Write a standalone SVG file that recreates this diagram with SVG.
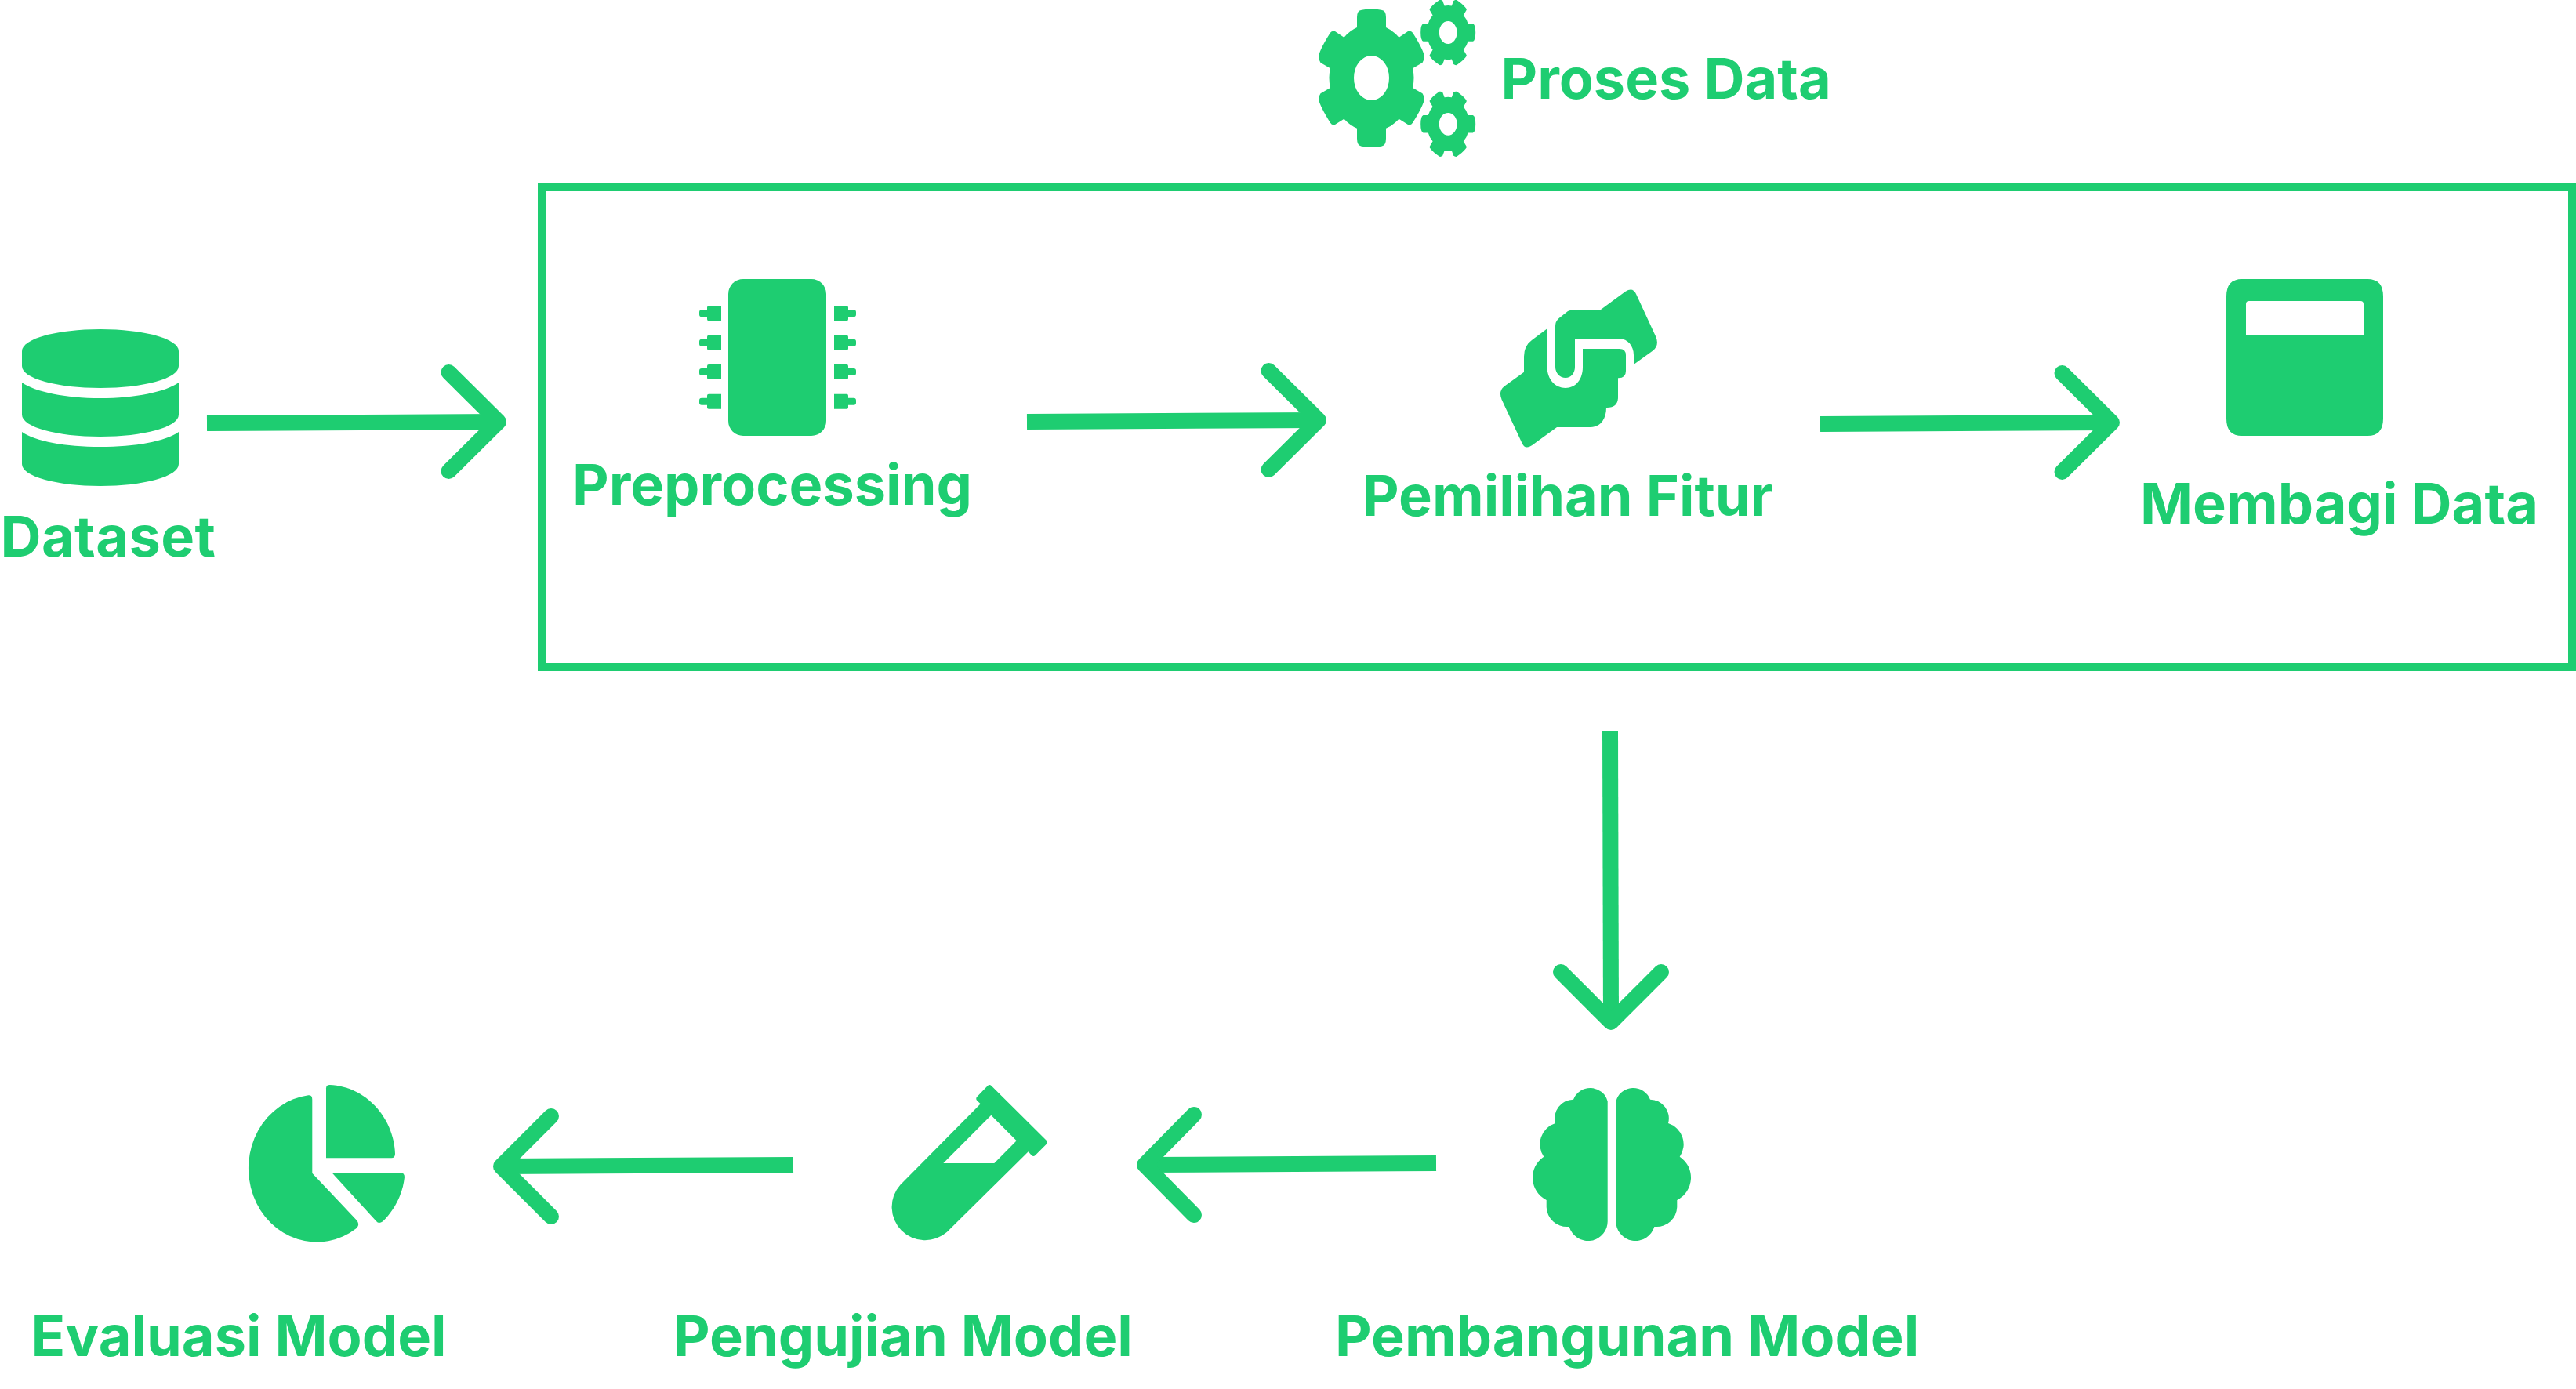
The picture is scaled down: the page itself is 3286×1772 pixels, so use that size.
<svg xmlns="http://www.w3.org/2000/svg" xmlns:xlink="http://www.w3.org/1999/xlink" width="3286" height="1772" viewBox="0 0 3286 1772">
<style>
.f{fill:#1ecd71}
.t{fill:#1ecd71;font-family:Inter,"Liberation Sans",sans-serif;font-weight:700;font-size:72px}
.c{fill:none;stroke:#1ecd71;stroke-width:20;stroke-linecap:butt}
.h{fill:none;stroke:#1ecd71;stroke-width:20;stroke-linecap:round;stroke-linejoin:round}
</style>
<defs>
<path id="pinL" class="f" d="M902 0H920V19H904Q902 19 902 17V14H895Q892 14 892 11V8Q892 5 895 5H902V2Q902 0 904 0Z"/>
<path id="pinR" class="f" d="M1064 0H1080Q1082 0 1082 2V5H1089Q1092 5 1092 8V11Q1092 14 1089 14H1082V17Q1082 19 1080 19H1064Z"/>
<path id="smallGear" class="f" fill-rule="evenodd" d="M-4.6 -34Q0 -35 4.6 -34L7 -40.5Q9 -42 11 -41.5Q19 -36 22 -32Q24 -30 23.5 -28.8L19.6 -22Q24 -17 25.4 -11.3H31.7Q35 -10 35 0Q35 10 31.7 11.3H25.4Q24 17 19.6 22L23.5 28.8Q24 30 22 32Q19 36 11 41.5Q9 42 7 40.5L4.6 34Q0 35 -4.6 34L-7 40.5Q-9 42 -11 41.5Q-19 36 -22 32Q-24 30 -23.5 28.8L-19.6 22Q-24 17 -25.4 11.3H-31.7Q-35 10 -35 0Q-35 -10 -31.7 -11.3H-25.4Q-24 -17 -19.6 -22L-23.5 -28.8Q-24 -30 -22 -32Q-19 -36 -11 -41.5Q-9 -42 -7 -40.5ZM0 -14.4A11.4 14.4 0 0 0 0 14.4A11.4 14.4 0 0 0 0 -14.4Z"/>
<path id="brainHalf" class="f" d="M2050.7 1405A23 23 0 0 0 2007 1402.7A24 24 0 0 0 1984 1433A28 28 0 0 0 1969.3 1475.7A32 32 0 0 0 1972.7 1531V1540A26 26 0 0 0 2000 1565H2001.7A25 25 0 0 0 2050.7 1557Z"/>
</defs>
<rect x="0" y="0" width="3286" height="1772" fill="#fff"/>
<g id="connectors">
<path class="c" d="M264 540L636 538"/><path class="h" d="M572.500 475L636 538L572.500 601"/>
<path class="c" d="M1310 538L1682 536"/><path class="h" d="M1618.500 473L1682 536L1618.500 599"/>
<path class="c" d="M2322 541L2694 539"/><path class="h" d="M2630.500 476L2694 539L2630.500 602"/>
<path class="c" d="M2054 932L2055 1304"/><path class="h" d="M1991 1240L2055 1304L2119 1240"/>
<path class="c" d="M1832 1484L1460 1486"/><path class="h" d="M1523 1422L1460 1486L1523 1550"/>
<path class="c" d="M1012 1486L639 1488"/><path class="h" d="M703 1424L639 1488L703 1552"/>
</g>
<g id="proses-data-frame"><rect x="691" y="239" width="2590" height="612" fill="none" stroke="#1ecd71" stroke-width="10"/></g>
<g id="proses-data">
<path class="f" fill-rule="evenodd" d="M1731 35V22Q1731 13 1737 12.700Q1749.500 10.500 1762 12.700Q1768 13 1768 22V35Q1777 39 1784.500 47.700L1796 40Q1800 39 1802 41.700Q1815 62 1817 71.700Q1817 76 1814.500 80L1802 87.300Q1805 99 1802 112L1814.500 119.300Q1817 123 1817 126.700Q1815 136 1802 156.700Q1800 160 1796 159L1784.500 151.700Q1777 160 1768 163.700V176.700Q1768 186 1762 186.700Q1749.500 189 1737 186.700Q1731 186 1731 176.700V163.700Q1722 160 1714.500 151.700L1703 159Q1699 160 1697 156.700Q1684 136 1682 126.700Q1682 123 1684.500 119.300L1697 112Q1694 99 1697 87.300L1684.500 80Q1682 76 1682 71.700Q1684 62 1697 41.700Q1699 39 1703 40L1714.500 47.700Q1722 39 1731 35ZM1749.500 71A22.500 28.500 0 0 0 1749.500 128A22.500 28.500 0 0 0 1749.500 71Z"/>
<use xlink:href="#smallGear" href="#smallGear" x="1847.200" y="41.500"/>
<use xlink:href="#smallGear" href="#smallGear" x="1847.200" y="158.300"/>
<text class="t" x="1914.500" y="126">Proses Data</text>
</g>
<g id="dataset">
<path class="f" d="M28 448C28 432 73 420 128 420S228 432 228 448V467C228 483 183 495 128 495S28 483 28 467Z"/>
<path class="f" d="M28 488C45 500 83 508 128 508S211 500 228 488V529C228 545 183 557 128 557S28 545 28 529Z"/>
<path class="f" d="M28 551C45 563 83 570 128 570S211 563 228 551V592C228 608 183 620 128 620S28 608 28 592Z"/>
<text class="t" x="0.500" y="710" letter-spacing="0.4">Dataset</text>
</g>
<g id="preprocessing">
<rect class="f" x="929" y="356" width="125" height="200" rx="19"/>
<use xlink:href="#pinL" href="#pinL" y="390.300"/><use xlink:href="#pinL" href="#pinL" y="427.700"/><use xlink:href="#pinL" href="#pinL" y="465"/><use xlink:href="#pinL" href="#pinL" y="502.700"/>
<use xlink:href="#pinR" href="#pinR" y="390.300"/><use xlink:href="#pinR" href="#pinR" y="427.700"/><use xlink:href="#pinR" href="#pinR" y="465"/><use xlink:href="#pinR" href="#pinR" y="502.700"/>
<text class="t" x="730" y="644">Preprocessing</text>
</g>
<g id="pemilihan-fitur">
<path class="f" d="M2042 395L2073.600 371.700Q2083 366 2087 375L2112 429Q2117 440 2109 447L2084 465V453C2084 441 2076 432.300 2066.400 432.300H2009V468C2009 476 2004 482 1997 482S1984 476 1984 468V416Q1984 410 1988.600 406L2000 397Q2004 395 2009 395Z"/>
<path class="f" d="M1973.600 419.300V468.300C1973.600 484 1984 495 1997 495S2019 484 2019 468.300V445H2065.700Q2074 445 2074 453.300V473.300Q2074 482.300 2064.600 482.300H2064V506.700Q2064 520 2050 520H2049C2049 535 2041 545 2029 545H1986L1954 568.300Q1945 574 1941.400 565L1915.700 510Q1911 499 1919 492.700L1944 474.700V455Q1944 441 1954 434Z"/>
<text class="t" x="1738" y="658">Pemilihan Fitur</text>
</g>
<g id="membagi-data">
<path class="f" fill-rule="evenodd" d="M2860 356H3020Q3040 356 3040 378V534Q3040 556 3020 556H2860Q2840 556 2840 534V378Q2840 356 2860 356ZM2869 384Q2865 384 2865 388V427.300H3015V388Q3015 384 3011 384Z"/>
<text class="t" x="2730" y="668">Membagi Data</text>
</g>
<g id="pembangunan-model">
<use xlink:href="#brainHalf" href="#brainHalf"/>
<use xlink:href="#brainHalf" href="#brainHalf" transform="translate(4112 0) scale(-1 1)"/>
<text class="t" x="1703" y="1730">Pembangunan Model</text>
</g>
<g id="pengujian-model">
<path class="f" fill-rule="evenodd" d="M1260 1385Q1262.300 1383 1264.500 1385L1335 1455Q1336.800 1457.300 1335 1459.500L1320.500 1474Q1318.300 1476 1316 1474L1311.700 1469.300L1208 1571.700A42.400 42.400 0 0 1 1148.300 1511.700L1250.700 1408.300L1246 1403.700Q1244.500 1401.700 1246 1399.500ZM1264.300 1422.700L1203.300 1484H1268.300L1296.700 1455.300Z"/>
<text class="t" x="859" y="1730">Pengujian Model</text>
</g>
<g id="evaluasi-model">
<path class="f" d="M393.300 1397.300Q398.300 1396.800 398.300 1402.700V1496.700L455 1556.700Q459.500 1562 455 1566.700A87 94 0 1 1 393.300 1397.300Z"/>
<path class="f" d="M416 1388.300Q416 1384 420.700 1384C466 1386 502 1425 504 1471.700Q504 1477.300 499.300 1477.300H416Z"/>
<path class="f" d="M423.300 1496H510.700Q516 1496 516 1501.700C514 1522 504 1543 488.300 1558.300Q483 1562 480 1558Z"/>
<text class="t" x="39.500" y="1730">Evaluasi Model</text>
</g>
</svg>
